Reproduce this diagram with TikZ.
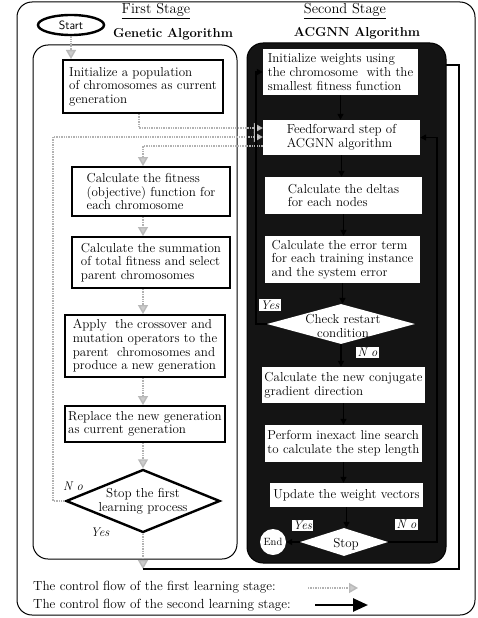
\documentclass[tikz,border=0pt]{standalone}
\usetikzlibrary{arrows.meta,shapes.geometric,calc}
\newcommand{\btxt}{\fontsize{13}{13.6}\selectfont}
\newcommand{\itxt}{\fontsize{12.5}{13}\selectfont\itshape}
\newcommand{\ttxt}{\fontsize{14.5}{16}\selectfont}
\newcommand{\hbtxt}{\fontsize{13}{15}\selectfont\bfseries}
\newcommand{\lgtxt}{\fontsize{13.2}{14}\selectfont}
\begin{document}
\begin{tikzpicture}[x=1pt,y=-1pt,
  lbox/.style={draw, line width=2pt, fill=white, align=left, inner sep=2pt, font=\btxt},
  rbox/.style={fill=white, align=left, inner sep=2pt, font=\btxt},
  ldia/.style={diamond, draw, line width=2.4pt, fill=white, inner sep=0pt},
  rdia/.style={diamond, fill=white, inner sep=0pt},
  gline/.style={draw=gray!60, densely dotted, line width=1.4pt},
  garrow/.style={gline, -{Triangle[width=10pt,length=9pt,fill=gray!40,color=gray!55]}},
  karrow/.style={draw=black, line width=1.3pt, -{Triangle[width=6pt,length=6pt]}},
  bflow/.style={draw=black, line width=1.5pt},
  lab/.style={font=\itxt, inner sep=1pt},
  wlab/.style={fill=white, font=\itxt, inner sep=1.5pt},
  ttl/.style={font=\ttxt, inner sep=1pt},
  htl/.style={font=\hbtxt, inner sep=1pt},
  leg/.style={font=\lgtxt, anchor=west, inner sep=0pt}]
\useasboundingbox (0,0) rectangle (477,618);
% frames
\draw[line width=1pt, rounded corners=15pt] (17,2) rectangle (475,615);
\draw[line width=1pt, rounded corners=15pt] (33,45) rectangle (237,559);
\draw[draw=black, fill=black!92, line width=1pt, rounded corners=16pt] (247,43) rectangle (446,563);
% titles
\node[ttl] (t1) at (156,11) {\underline{First Stage}};
\node[ttl] (t2) at (345,11) {\underline{Second Stage}};
\node[htl] (h1) at (173,34) {Genetic Algorithm};
\node[htl] (h2) at (357,33) {ACGNN Algorithm};
\node[ellipse, draw, line width=2.4pt, minimum width=66pt, minimum height=20pt, inner sep=0pt, font=\sffamily\fontsize{12}{12}\selectfont] (start) at (71,25) {Start};
% left column
\node[lbox, minimum width=160pt, minimum height=53pt] (g1) at (143,86.5) {Initialize a population\\of chromosomes as current\\generation};
\node[lbox, minimum width=158pt, minimum height=49pt] (g2) at (151,191.5) {Calculate the fitness\\(objective) function for\\each chromosome};
\node[lbox, minimum width=158pt, minimum height=51pt] (g3) at (151,262.5) {Calculate the summation\\of total fitness and select\\parent chromosomes};
\node[lbox, minimum width=160pt, minimum height=62pt] (g4) at (145,346) {Apply\ \ the crossover and\\mutation operators to the\\parent\ \ chromosomes and\\produce a new generation};
\node[lbox, minimum width=160pt, minimum height=36pt] (g5) at (145,424) {Replace the new generation\\as current generation};
\node[ldia, minimum width=154pt, minimum height=63pt] (d1) at (143,501) {};
\node[font=\btxt, align=center, inner sep=0pt] (d1t) at (143,501) {Stop the first\\learning process};
\node[lab] (no1) at (73,486) {N o};
\node[lab] (yes1) at (100,532) {Yes};
% right column
\node[rbox, minimum width=155pt, minimum height=46pt] (r1) at (340.5,72) {Initialize weights using\\the chromosome\ \ with the\\smallest fitness function};
\node[rbox, minimum width=157pt, minimum height=35pt] (r2) at (341.5,137.5) {Feedforward step of\\ACGNN algorithm};
\node[rbox, minimum width=157pt, minimum height=37pt] (r3) at (343.5,195.5) {Calculate the deltas\\for each nodes};
\node[rbox, minimum width=155pt, minimum height=47pt] (r4) at (342.5,259.5) {Calculate the error term\\for each training instance\\and the system error};
\node[rdia, minimum width=148pt, minimum height=40pt] (c1) at (341,324) {};
\node[font=\btxt, align=center, inner sep=0pt] (c1t) at (343,326) {Check restart\\condition};
\node[wlab] (yes2) at (270,305) {Yes};
\node[wlab] (no2) at (367.5,352.5) {N o};
\node[rbox, minimum width=157pt, minimum height=36pt] (r5) at (343.5,385) {Calculate the new conjugate\\gradient direction};
\node[rbox, minimum width=157pt, minimum height=37pt] (r6) at (343.5,443.5) {Perform inexact line search\\to calculate the step length};
\node[rbox, minimum width=153pt, minimum height=24pt] (r7) at (346.5,495) {Update the weight vectors};
\node[rdia, minimum width=88pt, minimum height=28pt] (s1) at (344,542) {};
\node[font=\btxt, inner sep=0pt] (s1t) at (346,544) {Stop};
\node[circle, fill=white, minimum size=26pt, inner sep=0pt, font=\fontsize{10.5}{11}\selectfont] (end) at (273,542) {End};
\node[wlab] (yes3) at (302.5,525.5) {Yes};
\node[wlab] (no3) at (406.5,524.5) {N o};
% coordinates
\coordinate (ax) at (143,0);
\coordinate (ax1) at (139,0);
\coordinate (lx) at (53,0);
\coordinate (ya) at (0,128);
\coordinate (yb) at (0,137);
\coordinate (yc) at (0,146);
\coordinate (rx) at (437,0);
\coordinate (kx) at (256,0);
\coordinate (j1) at (143,569);
\coordinate (j2) at (459,569);
\coordinate (j3) at (459,65);
\coordinate (j4) at (446,65);
% first stage flow (gray)
\draw[garrow] (start.south) -- (start.south |- g1.north);
\draw[garrow] (g1.south -| ax1) -- (ax1 |- ya) -- (r2.west |- ya);
\draw[garrow] (d1.west) -- (d1.west -| lx) -- (lx |- yb) -- (r2.west |- yb);
\draw[garrow] (r2.west |- yc) -- (ax |- yc) -- (g2.north -| ax);
\draw[garrow] (g2.south -| ax) -- (g3.north -| ax);
\draw[garrow] (g3.south -| ax) -- (g4.north -| ax);
\draw[garrow] (g4.south -| ax) -- (g5.north -| ax);
\draw[garrow] (g5.south -| ax) -- (d1.north);
\draw[garrow] (d1.south) -- (j1);
% second stage flow (black)
\draw[bflow] (j1) -- (j2) -- (j3) -- (j4);
\draw[karrow] (r1.south) -- (r1.south |- r2.north);
\draw[karrow] (r2.south) -- (r2.south |- r3.north);
\draw[karrow] (r3.south) -- (r3.south |- r4.north);
\draw[karrow] (r4.south) -- (r4.south |- c1.north);
\draw[karrow] (c1.south) -- (c1.south |- r5.north);
\draw[karrow] (r5.south) -- (r5.south |- r6.north);
\draw[karrow] (r6.south) -- (r6.south |- r7.north);
\draw[karrow] (r7.south) -- (r7.south |- s1.north);
\draw[karrow] (s1.east) -- (s1.east -| rx) -- (rx |- r2.east) -- (r2.east);
\draw[karrow] (s1.west) -- (end.east);
\draw[karrow] (c1.west) -- (c1.west -| kx) -- (kx |- r1.west) -- (r1.west);
% legend
\node[leg] (l1) at (33,587) {The control flow of the first learning stage:};
\node[leg] (l2) at (33,605) {The control flow of the second learning stage:};
\coordinate (la) at (308,588);
\coordinate (lb) at (358,588);
\coordinate (lc) at (315,605);
\coordinate (ld) at (368,605);
\draw[garrow] (la) -- (lb);
\draw[draw=black, line width=2.6pt, -{Triangle[width=13pt,length=15pt]}] (lc) -- (ld);
\end{tikzpicture}
\end{document}
